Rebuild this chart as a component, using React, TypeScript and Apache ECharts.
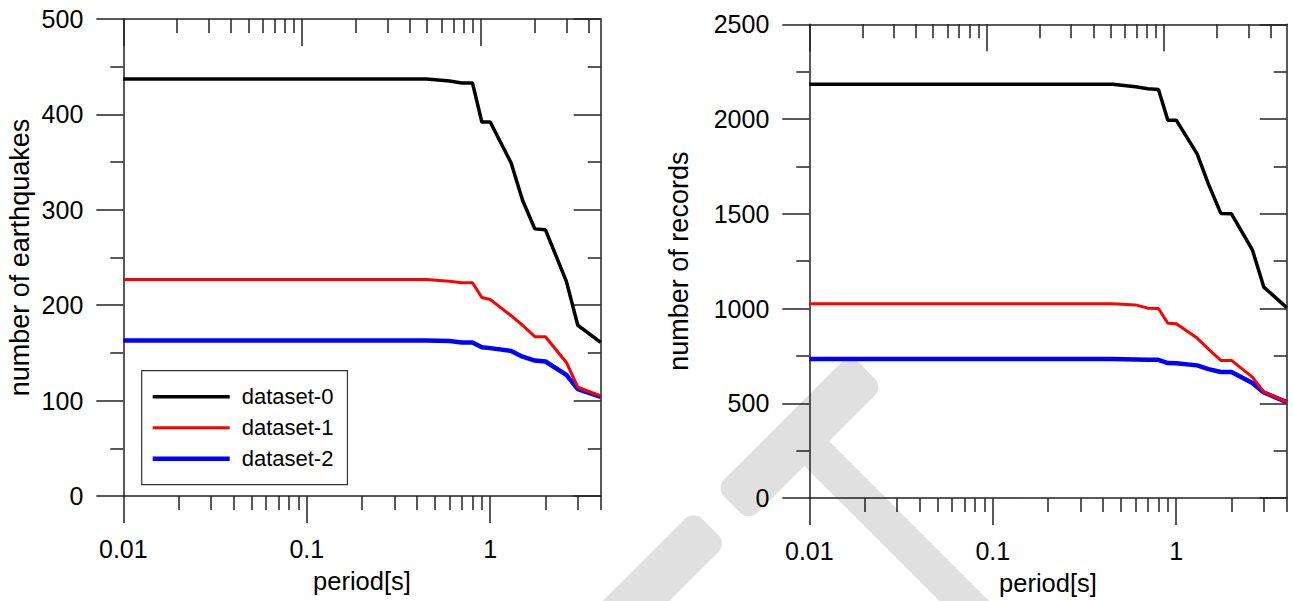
import React, { useEffect, useRef } from "react";
import * as echarts from "echarts";

// ---- data ----
const periods = [0.01, 0.02, 0.03, 0.04, 0.05, 0.075, 0.1, 0.15, 0.2, 0.3, 0.45, 0.6, 0.7, 0.8, 0.9, 1.0, 1.3, 1.5, 1.75, 2.0, 2.6, 3.0, 4.0];
const seriesNames = ["dataset-0", "dataset-1", "dataset-2"];
const quakes0 = [437, 437, 437, 437, 437, 437, 437, 437, 437, 437, 437, 435, 433, 433, 392, 392, 349, 310, 280, 279, 225, 179, 161];
const quakes1 = [227, 227, 227, 227, 227, 227, 227, 227, 227, 227, 227, 225, 223.5, 223.5, 208, 206, 189, 179, 167, 167, 140, 114, 105];
const quakes2 = [163, 163, 163, 163, 163, 163, 163, 163, 163, 163, 163, 162.5, 161, 161, 156, 155, 152, 146, 142, 141, 127, 112, 104];
const records0 = [2184, 2184, 2184, 2184, 2184, 2184, 2184, 2184, 2184, 2184, 2184, 2170, 2160, 2156, 1994, 1994, 1816, 1655, 1502, 1500, 1310, 1113, 1005];
const records1 = [1025, 1025, 1025, 1025, 1025, 1025, 1025, 1025, 1025, 1025, 1025, 1019, 1002, 1000, 922, 920, 844, 785, 726, 726, 638, 560, 506];
const records2 = [733, 733, 733, 733, 733, 733, 733, 733, 733, 733, 733, 731, 729, 729, 712, 711, 700, 680, 665, 665, 607, 557, 506];
const xTickValues = [0.01, 0.1, 1];
const xTickLabels = ["0.01", "0.1", "1"];
const xMinorMultipliers = [2, 3, 4, 5, 6, 7, 8, 9];
const xMin = 0.01;
const xMax = 4;
const topAxisMax = [4.67, 4.93];
const yMax = [500, 2500];
const yInterval = [100, 500];
const yNames = ["number of earthquakes", "number of records"];
const xName = "period[s]";
const colors = ["#000000", "#ff0000", "#0000ff"];
const lineWidths = [3.5, 3, 4.5];

const FONT = "'Liberation Sans', Arial, sans-serif";
const AX = "#222222";

export default function App() {
  const ref = useRef<HTMLDivElement>(null);
  useEffect(() => {
    if (!ref.current) return;
    const chart = echarts.init(ref.current, null, { renderer: "svg" });
    const lg = (v: number) => Math.log10(v);
    const majors = xTickValues.map(lg);
    const minorsUpTo = (mx: number) => {
      const out: number[] = [];
      for (const dec of xTickValues) {
        for (const k of xMinorMultipliers) {
          const v = k * dec;
          if (v <= mx + 1e-9) out.push(lg(v));
        }
      }
      return out;
    };
    const labelFor = (v: number) => {
      const i = majors.findIndex((m) => Math.abs(m - v) < 1e-6);
      return i >= 0 ? xTickLabels[i] : "";
    };
    const grids = [
      { left: 123.3, top: 19, width: 477.4, height: 477 },
      { left: 809.3, top: 24.3, width: 477.4, height: 477.7 },
    ];
    const xAxes: any[] = [];
    const yAxes: any[] = [];
    const lineStyle = { color: AX, width: 1.5 };
    grids.forEach((_, g) => {
      const bMax = lg(xMax);
      const tMax = lg(topAxisMax[g]);
      xAxes.push({
        gridIndex: g, type: "value", position: "bottom", min: lg(xMin), max: bMax,
        axisLine: { show: true, onZero: false, lineStyle },
        axisTick: { show: true, inside: false, length: 27, lineStyle, customValues: majors },
        axisLabel: { show: true, customValues: majors, formatter: (v: number) => labelFor(v), margin: 40, fontSize: 25, color: "#000", fontFamily: FONT },
        splitLine: { show: false },
        name: xName, nameLocation: "middle", nameGap: 72,
        nameTextStyle: { fontSize: 25.5, color: "#000", fontFamily: FONT },
      });
      xAxes.push({
        gridIndex: g, type: "value", position: "bottom", min: lg(xMin), max: bMax,
        axisLine: { show: false, onZero: false },
        axisTick: { show: true, inside: false, length: 14, lineStyle, customValues: minorsUpTo(xMax) },
        axisLabel: { show: false }, splitLine: { show: false },
      });
      xAxes.push({
        gridIndex: g, type: "value", position: "top", min: lg(xMin), max: tMax,
        axisLine: { show: true, onZero: false, lineStyle },
        axisTick: { show: true, inside: true, length: 27, lineStyle, customValues: majors },
        axisLabel: { show: false }, splitLine: { show: false },
      });
      xAxes.push({
        gridIndex: g, type: "value", position: "top", min: lg(xMin), max: tMax,
        axisLine: { show: false, onZero: false },
        axisTick: { show: true, inside: true, length: 14, lineStyle, customValues: minorsUpTo(topAxisMax[g]) },
        axisLabel: { show: false }, splitLine: { show: false },
      });
      yAxes.push({
        gridIndex: g, type: "value", position: "left", min: 0, max: yMax[g], interval: yInterval[g],
        axisLine: { show: true, onZero: false, lineStyle },
        axisTick: { show: true, inside: false, length: 27, lineStyle },
        minorTick: { show: true, splitNumber: 2, length: 13, lineStyle },
        axisLabel: { show: true, margin: 40, fontSize: 25, color: "#000", fontFamily: FONT, formatter: (v: number) => String(v) },
        splitLine: { show: false }, minorSplitLine: { show: false },
        name: yNames[g], nameLocation: "middle", nameRotate: 90, nameGap: g === 0 ? 90 : 117,
        nameTextStyle: { fontSize: 27, color: "#000", fontFamily: FONT },
      });
      yAxes.push({
        gridIndex: g, type: "value", position: "right", min: 0, max: yMax[g], interval: yInterval[g],
        axisLine: { show: true, onZero: false, lineStyle },
        axisTick: { show: true, inside: true, length: 27, lineStyle },
        minorTick: { show: true, splitNumber: 2, length: 13, lineStyle },
        axisLabel: { show: false },
        splitLine: { show: false }, minorSplitLine: { show: false },
      });
    });

    const mk = (vals: number[]) => periods.map((p, i) => [lg(p), vals[i]]);
    const dataSets = [
      [quakes0, quakes1, quakes2],
      [records0, records1, records2],
    ];
    const series: any[] = [];
    dataSets.forEach((sets, g) => {
      sets.forEach((vals, k) => {
        series.push({
          type: "line", name: seriesNames[k], xAxisIndex: g * 4, yAxisIndex: g * 2,
          data: mk(vals), symbol: "none", showSymbol: false,
          lineStyle: { color: colors[k], width: lineWidths[k] },
          itemStyle: { color: colors[k] },
          z: 5 - k,
        });
      });
    });

    const wm = "#e0e0e0";
    const bar = (cx: number, cy: number, L: number, W: number, rot: number) => ({
      type: "rect", x: cx, y: cy, rotation: rot, z: -10, silent: true,
      shape: { x: -L / 2, y: -W / 2, width: L, height: W, r: 12 },
      style: { fill: wm },
    });

    chart.setOption({
      animation: false,
      backgroundColor: "#ffffff",
      textStyle: { fontFamily: FONT },
      grid: grids.map((g) => ({ ...g, containLabel: false })),
      xAxis: xAxes,
      yAxis: yAxes,
      legend: {
        data: seriesNames.map((n, k) => ({
          name: n,
          icon: `path://M0,0H77V${lineWidths[k]}H0Z`,
          itemStyle: { color: colors[k] },
        })),
        orient: "vertical", left: 141.7, top: 370.7,
        itemWidth: 77, itemHeight: 14, itemGap: 9,
        padding: [15, 14, 15, 11], borderColor: "#333", borderWidth: 1.2,
        backgroundColor: "#fff",
        textStyle: { fontSize: 22, color: "#000", fontFamily: FONT, padding: [0, 0, 0, 7] },
        selectedMode: false,
      },
      graphic: {
        elements: [
          bar(799.5, 437.5, 190, 47, Math.PI / 4),
          bar(659.3, 577.7, 144, 47, Math.PI / 4),
          bar(895.9, 532.6, 271, 35, -Math.PI / 4),
        ],
      },
      series,
    });
    return () => chart.dispose();
  }, []);
  return (
    <div
      ref={ref}
      style={{ position: "fixed", left: 0, top: 0, width: 1293, height: 601, background: "#fff" }}
    />
  );
}
